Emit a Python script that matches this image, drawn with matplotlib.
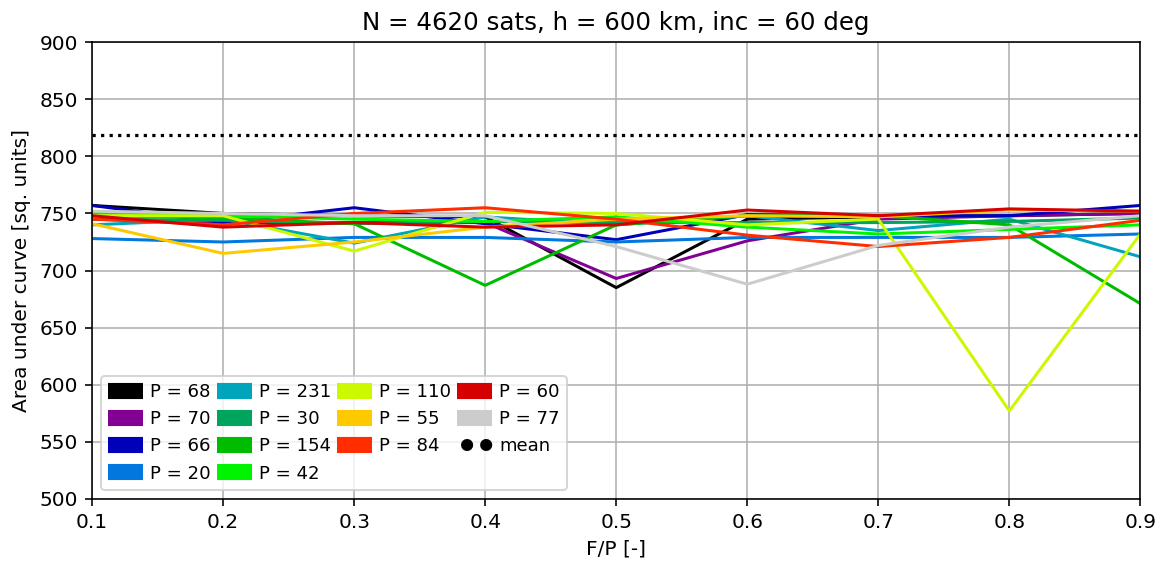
import numpy as np
import matplotlib
matplotlib.use('Agg')
import matplotlib.pyplot as plt

# Data
fp = [0.1, 0.2, 0.3, 0.4, 0.5, 0.6, 0.7, 0.8, 0.9]
planes = [68, 70, 66, 20, 231, 30, 154, 42, 110, 55, 84, 60, 77]
area = {
    68:  [757, 750, 748, 747, 685, 745, 747, 748, 750],
    70:  [745, 742, 742, 742, 693, 726, 745, 748, 750],
    66:  [757, 742, 755, 741, 727, 749, 748, 748, 757],
    20:  [728, 725, 729, 729, 725, 729, 729, 729, 732],
    231: [740, 745, 724, 747, 740, 748, 735, 745, 712],
    30:  [745, 744, 741, 743, 742, 742, 742, 743, 746],
    154: [748, 746, 741, 687, 740, 748, 748, 740, 671],
    42:  [750, 748, 745, 743, 747, 738, 732, 736, 740],
    110: [748, 748, 717, 751, 750, 740, 745, 577, 732],
    55:  [741, 715, 725, 738, 745, 748, 747, 753, 752],
    84:  [745, 740, 750, 755, 745, 731, 721, 729, 744],
    60:  [748, 738, 742, 738, 740, 753, 748, 754, 752],
    77:  [752, 750, 748, 748, 721, 688, 722, 738, 748],
}
mean_val = 819

fig, ax = plt.subplots(figsize=(1166 / 145, 563 / 145), dpi=145)
fig.subplots_adjust(left=0.079, right=0.978, top=0.925, bottom=0.114)

colors = plt.get_cmap('nipy_spectral')(np.linspace(0, 1, len(planes)))
for c, p in zip(colors, planes):
    ax.plot(fp, area[p], color=c, lw=1.5, label=f'P = {p}')

ax.axhline(mean_val, color='black', ls=':', lw=1.6, label='mean')

ax.set_xlim(0.1, 0.9)
ax.set_ylim(500, 900)
ax.set_xticks(np.arange(0.1, 0.91, 0.1))
ax.set_yticks(np.arange(500, 901, 50))
ax.tick_params(labelsize=10)
ax.grid(True, color='#b0b0b0', lw=0.8)
ax.set_xlabel('F/P [-]', fontsize=10)
ax.set_ylabel('Area under curve [sq. units]', fontsize=10)
ax.set_title('N = 4620 sats, h = 600 km, inc = 60 deg', fontsize=12.2)

leg = ax.legend(loc='lower left', ncol=4, fontsize=9, handlelength=1.9,
                handletextpad=0.4, columnspacing=0.35, labelspacing=0.5,
                borderaxespad=0.5)
for line in leg.get_lines():
    if line.get_label() == 'mean':
        line.set_linewidth(6)
        line.set_dash_capstyle('round')
        line.set_linestyle((0.75, (0.01, 1.57)))
    else:
        line.set_linewidth(8)
        line.set_solid_capstyle('butt')

plt.savefig('out.png')
